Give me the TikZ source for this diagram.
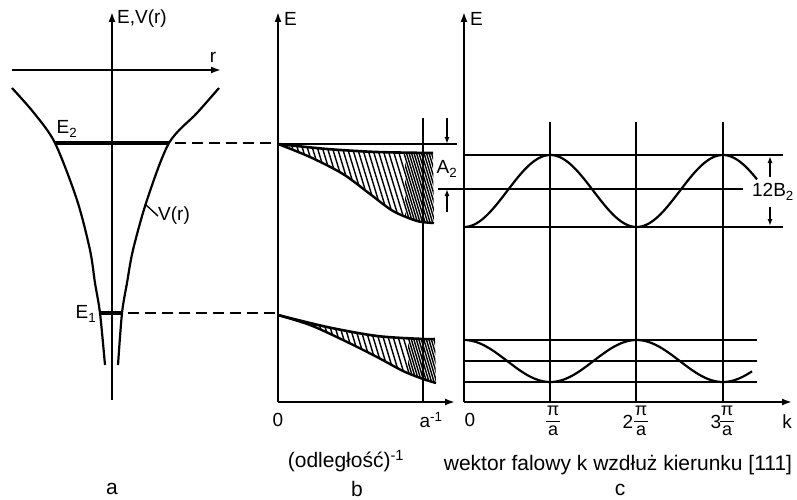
\documentclass[tikz,border=0pt]{standalone}
\usepackage{fontspec}
\setmainfont{Liberation Sans}
\usetikzlibrary{arrows.meta}
\begin{document}
\begin{tikzpicture}[x=1pt,y=-1pt,
  axis/.style={line width=1.9pt,-{Latex[length=10pt,width=7pt]}},
  curve/.style={line width=2.2pt},
  level/.style={line width=3.4pt},
  guide/.style={line width=2.2pt,dash pattern=on 11pt off 6pt},
  thinline/.style={line width=1.4pt},
  dim/.style={line width=1.4pt,-{Latex[length=7pt,width=5pt]}},
  lab/.style={font=\fontsize{19}{21}\selectfont, inner sep=0pt},
  fraclab/.style={font=\fontsize{18}{19}\selectfont, inner sep=0pt},
  caption/.style={font=\fontsize{21}{23}\selectfont, inner sep=0pt},
  hatchline/.style={line width=1.4pt}
]
\useasboundingbox (0,0) rectangle (797,500);

% ---------------- panel a ----------------
\coordinate (aB) at (112,400); \coordinate (aT) at (112,12);
\draw[axis] (aB) -- (aT);
\node[lab,anchor=west] (aE) at (117,19) {E,V(r)};
\coordinate (rL) at (12,70); \coordinate (rR) at (221,70);
\draw[axis] (rL) -- (rR);
\node[lab] (rlab) at (213,57) {r};
\draw[curve] plot[smooth] coordinates {(12,88) (34,113) (55,143) (77,200) (90,250) (95,283) (100,313) (105,365)};
\draw[curve] plot[smooth] coordinates {(219,88) (197,113) (169,143) (147,200) (133,250) (127,283) (122,313) (118,365)};
\coordinate (E2l) at (55,143); \coordinate (E2r) at (169,143); \coordinate (E2b) at (278,143);
\draw[level] (E2l) -- (E2r);
\draw[guide] (E2r) ++(6,0) -- (E2b);
\node[lab] (E2) at (67,129) {E\textsubscript{2}};
\coordinate (E1l) at (100,313); \coordinate (E1r) at (122,313); \coordinate (E1b) at (278,313);
\draw[level] (E1l) -- (E1r);
\draw[guide] (E1r) ++(6,0) -- (E1b);
\node[lab] (E1) at (86,314) {E\textsubscript{1}};
\node[lab,anchor=west] (vr) at (158,216) {V(r)};
\coordinate (vrp) at (145,204);
\draw[thinline] (vrp) -- (vr.west);
\node[caption] (capa) at (112,489) {a};

% ---------------- panel b ----------------
\coordinate (bB) at (278,402); \coordinate (bT) at (278,12); \coordinate (bR) at (455,402);
\draw[axis] (bB) -- (bT);
\draw[axis] (bB) -- (bR);
\node[lab,anchor=west] (bE) at (284,19) {E};
\coordinate (topL) at (278,144); \coordinate (topR) at (457,144);
\draw[thinline] (topL) -- (topR);

% upper band
\begin{scope}
\clip plot[smooth] coordinates {(278,144) (327,149) (377,152) (433,153)}
   -- plot[smooth] coordinates {(434,223) (417,221) (393,211) (370,194) (343,174) (310,157) (278,144)} -- cycle;
\foreach \x in {230,235,...,440} \draw[hatchline] (\x,140) -- ({\x+28},232);
\clip (405,130) rectangle (440,240);
\foreach \x in {232.5,237.5,...,440} \draw[hatchline] (\x,140) -- ({\x+28},232);
\end{scope}
\draw[line width=2.6pt] plot[smooth] coordinates {(278,144) (327,149) (377,152) (433,153)};
\draw[line width=2.4pt] plot[smooth] coordinates {(278,144) (310,157) (343,174) (370,194) (393,211) (417,221) (434,223)};

% lower band
\begin{scope}
\clip plot[smooth] coordinates {(278,315) (327,327) (377,336) (423,339) (435,339)}
   -- plot[smooth] coordinates {(436,383) (423,379) (403,371) (377,357) (343,340) (310,325) (278,315)} -- cycle;
\foreach \x in {230,235,...,440} \draw[hatchline] (\x,310) -- ({\x+24},390);
\clip (408,300) rectangle (440,400);
\foreach \x in {232.5,237.5,...,440} \draw[hatchline] (\x,310) -- ({\x+24},390);
\end{scope}
\draw[line width=2.6pt] plot[smooth] coordinates {(278,315) (327,327) (377,336) (423,339) (435,339)};
\draw[line width=2.4pt] plot[smooth] coordinates {(278,315) (310,325) (343,340) (377,357) (403,371) (423,379) (436,383)};

\coordinate (ainvT) at (423,118); \coordinate (ainvB) at (423,402);
\draw[line width=2.5pt] (ainvT) -- (ainvB);

% A2 dimension
\coordinate (A2a) at (447,118); \coordinate (A2b) at (447,144);
\coordinate (A2c) at (447,212); \coordinate (A2d) at (447,189);
\draw[dim] (A2a) -- (A2b);
\draw[dim] (A2c) -- (A2d);
\node[lab] (A2) at (447,169) {A\textsubscript{2}};
\coordinate (midL) at (438,189); \coordinate (midR) at (743,189);
\draw[thinline] (midL) -- (midR);

\node[lab] (b0) at (278,420) {0};
\node[lab] (ainv) at (431,420) {a\textsuperscript{-1}};
\node[caption] (capbx) at (346,461) {(odległość)\textsuperscript{-1}};
\node[caption] (capb) at (357,489) {b};

% ---------------- panel c ----------------
\coordinate (cB) at (464,402); \coordinate (cT) at (464,12); \coordinate (cR) at (792,402);
\draw[axis] (cB) -- (cT);
\draw[axis] (cB) -- (cR);
\node[lab,anchor=west] (cE) at (470,19) {E};
\foreach \x/\n in {550/g1,636/g2,723/g3} {
  \coordinate (\n t) at (\x,122); \coordinate (\n b) at (\x,402);
  \draw[thinline] (\n t) -- (\n b);
}
\foreach \y/\xe/\n in {155/783/h1,227/783/h2,340/757/h3,361/757/h4,382/757/h5} {
  \coordinate (\n l) at (464,\y); \coordinate (\n r) at (\xe,\y);
  \draw[thinline] (\n l) -- (\n r);
}
\draw[curve] plot[domain=464:757,samples=120,smooth] (\x,{191+36*cos((\x-464)/86.3*180)});
\draw[curve] plot[domain=464:752,samples=120,smooth] (\x,{361-21*cos((\x-464)/86.3*180)});

\coordinate (Ba) at (770,177); \coordinate (Bb) at (770,156);
\coordinate (Bc) at (770,207); \coordinate (Bd) at (770,226);
\draw[dim] (Ba) -- (Bb);
\draw[dim] (Bc) -- (Bd);
\node[lab] (B2) at (773,192) {12B\textsubscript{2}};

\node[lab] (c0) at (470,420) {0};
\foreach \xc/\n in {553/p1,641/p2,727/p3} {
  \node[fraclab] (\n n) at (\xc,411) {π};
  \node[fraclab] (\n d) at (\xc,431) {a};
  \coordinate (\n l) at ({\xc-7},421.5); \coordinate (\n r) at ({\xc+7},421.5);
  \draw[line width=1.3pt] (\n l) -- (\n r);
}
\node[lab] (two) at (628,422) {2};
\node[lab] (three) at (716,422) {3};
\node[lab] (kk) at (787,422) {k};
\node[caption] (capcx) at (618,465) {wektor falowy k wzdłuż kierunku [111]};
\node[caption] (capc) at (620,490) {c};
\end{tikzpicture}
\end{document}
